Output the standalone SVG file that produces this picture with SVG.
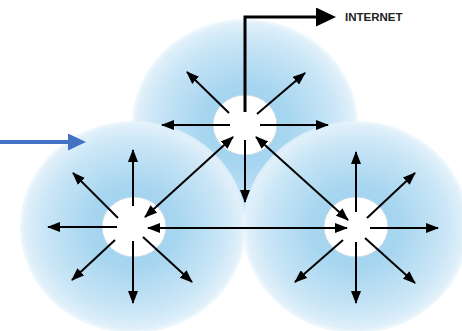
<svg xmlns="http://www.w3.org/2000/svg" width="462" height="331" viewBox="0 0 462 331">
<defs>
<radialGradient id="glow" cx="0.5" cy="0.5" r="0.5">
<stop offset="0" stop-color="#9acfee"/>
<stop offset="0.4" stop-color="#a8d6f0"/>
<stop offset="0.8" stop-color="#cae6f6"/>
<stop offset="0.96" stop-color="#e0f0fa"/>
<stop offset="1" stop-color="#eaf5fc" stop-opacity="0.7"/>
</radialGradient>
<marker id="ah" markerUnits="userSpaceOnUse" markerWidth="13" markerHeight="10" refX="12" refY="5" orient="auto-start-reverse">
<path d="M0,0 L13,5 L0,10 Z" fill="#000"/>
</marker>
<marker id="big" markerUnits="userSpaceOnUse" markerWidth="20" markerHeight="19" refX="2" refY="9.5" orient="auto">
<path d="M0,0 L20,9.5 L0,19 Z" fill="#000"/>
</marker>
<marker id="blue" markerUnits="userSpaceOnUse" markerWidth="18" markerHeight="17" refX="2" refY="8.5" orient="auto">
<path d="M0,0 L18,8.5 L0,17 Z" fill="#4472c4"/>
</marker>
</defs>
<style>
.zone{fill:url(#glow)}
.hub{fill:#fff;stroke:#c8dbe6;stroke-width:1}
.a{stroke:#000;stroke-width:2;fill:none;marker-end:url(#ah)}
.d{stroke:#000;stroke-width:2;fill:none;marker-start:url(#ah);marker-end:url(#ah)}
.lbl{font-family:"Liberation Sans",Arial,sans-serif;font-weight:bold;font-size:11.5px;fill:#222}
</style>
<rect width="462" height="331" fill="#fff"/>
<g id="node-top">
<ellipse class="zone" cx="245" cy="125" rx="113" ry="106"/>
</g>
<g id="node-left">
<ellipse class="zone" cx="133" cy="227" rx="113" ry="106"/>
</g>
<g id="node-right">
<ellipse class="zone" cx="356" cy="227" rx="113" ry="106"/>
</g>
<g id="hubs">
<ellipse class="hub" cx="245" cy="125" rx="32" ry="30"/>
<ellipse class="hub" cx="134" cy="227" rx="32" ry="30"/>
<ellipse class="hub" cx="356" cy="227" rx="32" ry="30"/>
</g>
<g id="internet">
<text class="lbl" x="345" y="21">INTERNET</text>
</g>
<g id="connectors">
<path d="M245,112 V17 H318" stroke="#000" stroke-width="3" fill="none" marker-end="url(#big)"/>
<line x1="0" y1="142" x2="70" y2="142" stroke="#4472c4" stroke-width="4" marker-end="url(#blue)"/>
<line class="a" x1="229" y1="113" x2="187" y2="72"/>
<line class="a" x1="257" y1="114" x2="305" y2="73"/>
<line class="a" x1="230" y1="125" x2="162" y2="125"/>
<line class="a" x1="260" y1="125" x2="328" y2="125"/>
<line class="a" x1="245" y1="140" x2="245" y2="202"/>
<line class="d" x1="233" y1="137" x2="145" y2="217"/>
<line class="d" x1="256" y1="137" x2="348" y2="220"/>
<line class="d" x1="148" y1="228" x2="347" y2="228"/>
<line class="a" x1="133" y1="206" x2="133" y2="150"/>
<line class="a" x1="118" y1="218" x2="73" y2="173"/>
<line class="a" x1="117" y1="227" x2="48" y2="227"/>
<line class="a" x1="115" y1="240" x2="72" y2="280"/>
<line class="a" x1="133" y1="241" x2="133" y2="303"/>
<line class="a" x1="143" y1="237" x2="192" y2="282"/>
<line class="a" x1="356" y1="212" x2="356" y2="152"/>
<line class="a" x1="367" y1="218" x2="415" y2="173"/>
<line class="a" x1="370" y1="228" x2="438" y2="228"/>
<line class="a" x1="365" y1="238" x2="415" y2="283"/>
<line class="a" x1="356" y1="242" x2="356" y2="303"/>
<line class="a" x1="343" y1="240" x2="295" y2="282"/>
</g>
</svg>
